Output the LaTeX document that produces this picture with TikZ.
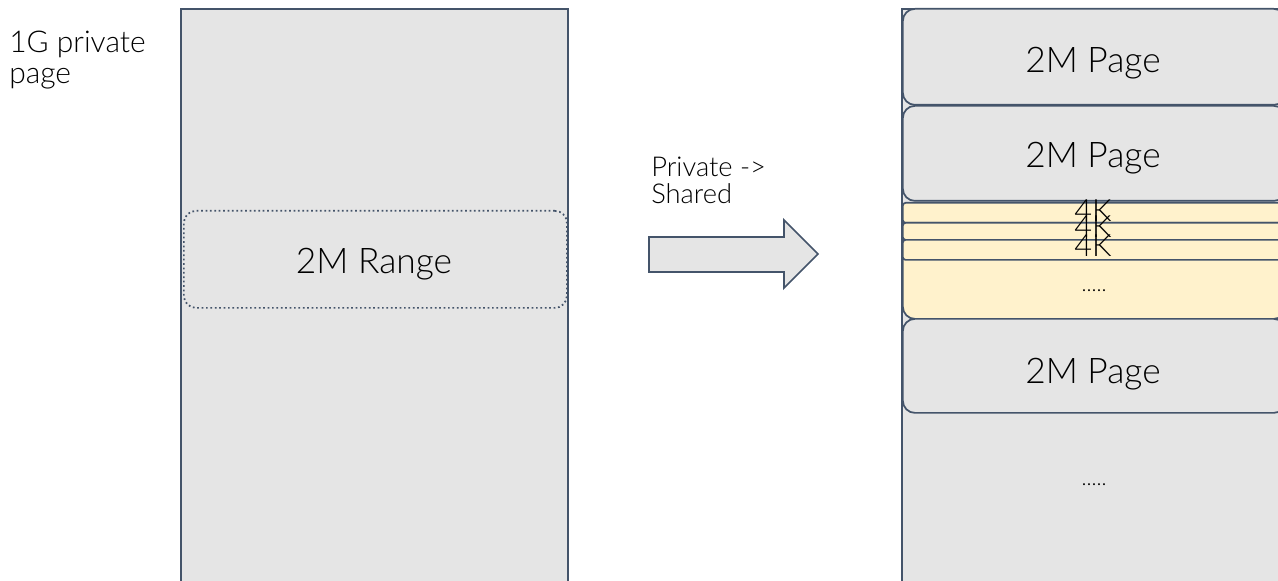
\documentclass[tikz,border=0pt]{standalone}
\usepackage{fontspec}
\setmainfont{Lato Light}
\begin{document}
\begin{tikzpicture}[x=0.75pt,y=-0.75pt,
  outline/.style={draw=edgec,line width=1.3pt,fill=boxgray},
  pagebox/.style={draw=edgec,line width=1.3pt,fill=boxgray,rounded corners=9pt,anchor=north west,inner sep=0pt,minimum width=383*0.75pt},
  smallbox/.style={draw=edgec,line width=1.3pt,fill=boxyellow,anchor=north west,inner sep=0pt,minimum width=383*0.75pt},
  bigtext/.style={font=\fontsize{26.5}{30}\selectfont,text=black,anchor=base,inner sep=0pt},
  kbtext/.style={font=\fontsize{23}{26}\selectfont,text=black,anchor=base,inner sep=0pt},
  dotstext/.style={font=\fontsize{16}{18}\selectfont,text=black,anchor=base,inner sep=0pt},
  midtext/.style={font=\fontsize{22.5}{26}\selectfont,text=black,anchor=base west,inner sep=0pt},
  convtext/.style={font=\fontsize{20.5}{24}\selectfont,text=black,anchor=base west,inner sep=0pt}]
\definecolor{edgec}{HTML}{44546A}
\definecolor{boxgray}{HTML}{E5E5E5}
\definecolor{boxyellow}{HTML}{FFF2CC}
\useasboundingbox (0,0) rectangle (1278,581);
\clip (0,0) rectangle (1278,581);

% the 1G page being converted
\node[outline,minimum width=387*0.75pt,minimum height=600*0.75pt,anchor=north west,inner sep=0pt] (huge) at (180,8) {};
\node[draw=edgec,line width=1.3pt,dotted,rounded corners=9pt,minimum width=383*0.75pt,minimum height=97*0.75pt,anchor=north west,inner sep=0pt] (range) at (183,210) {};
\node[bigtext] (rangelbl) at (374,273) {2M Range};

\node[midtext] (lbl1) at (9,53) {1G private};
\node[midtext] (lbl2) at (9,84) {page};

% conversion arrow
\node[convtext] (conv1) at (651,176) {Private ->};
\node[convtext] (conv2) at (651,204) {Shared};
\draw[outline] (649,237) -- (784,237) -- (784,220) -- (818,254) -- (784,288) -- (784,272) -- (649,272) -- cycle;

% the split result
\node[outline,minimum width=390*0.75pt,minimum height=600*0.75pt,anchor=north west,inner sep=0pt] (split) at (901,8) {};
\node[pagebox,minimum height=96*0.75pt] (p1) at (902,8) {};
\node[bigtext] (p1lbl) at (1093,73) {2M Page};
\node[pagebox,minimum height=95*0.75pt] (p2) at (902,105) {};
\node[bigtext] (p2lbl) at (1093,168) {2M Page};
\node[smallbox,rounded corners=9pt,minimum height=116*0.75pt] (grp) at (902,202) {};
\node[smallbox,rounded corners=2pt,minimum height=20*0.75pt] (k1) at (902,202) {};
\node[smallbox,rounded corners=2pt,minimum height=17*0.75pt] (k2) at (902,222) {};
\node[smallbox,rounded corners=2pt,minimum height=20*0.75pt] (k3) at (902,239) {};
\node[kbtext] (k1lbl) at (1093,221) {4K};
\node[kbtext] (k2lbl) at (1093,238) {4K};
\node[kbtext] (k3lbl) at (1093,256) {4K};
\node[dotstext] (d1) at (1094,291) {.....};
\node[pagebox,minimum height=94*0.75pt] (p3) at (902,318) {};
\node[bigtext] (p3lbl) at (1093,383) {2M Page};
\node[dotstext] (d2) at (1094,485) {.....};
\end{tikzpicture}
\end{document}
